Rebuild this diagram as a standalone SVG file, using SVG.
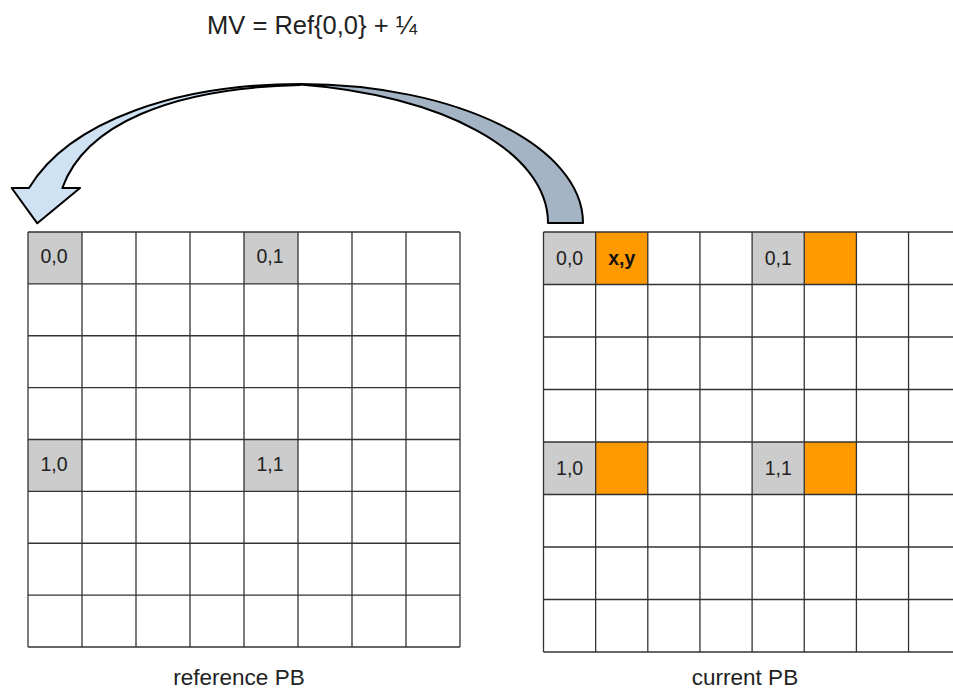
<svg xmlns="http://www.w3.org/2000/svg" width="953" height="690" viewBox="0 0 953 690">
  <style>
    text { font-family: "Liberation Sans", Arial, sans-serif; fill: #222; }
    .cellTxt { font-size: 19.5px; text-anchor: middle; }
    .bold { font-weight: bold; fill: #111; }
    .caption { font-size: 22.5px; text-anchor: middle; }
    .title { font-size: 25.5px; text-anchor: middle; }
    .grid line { stroke: #333; stroke-width: 1.3; }
    .gray { fill: #cccccc; }
    .orange { fill: #ff9900; }
    .band { stroke: #000; stroke-width: 2; stroke-linejoin: round; }
  </style>

  <rect width="953" height="690" fill="#ffffff"/>

  <!-- formula -->
  <g id="title">
    <text class="title" x="312" y="34">MV = Ref{0,0} + ¼</text>
  </g>

  <!-- curved arrow from the current block back to the reference block -->
  <g id="connectors">
    <path class="band" fill="#a4b4c4" d="M 300,84 C 456,84 583,146 583,223 L 548,223 C 548,150 440,95 300,84.5 Z"/>
    <path class="band" fill="#cfe2f3" d="M 300,84 C 180,84 70,120 29,188 L 11.7,188 L 37.3,223.3 L 80,188 L 62.3,188 C 85,125 170,88 300,85 Z"/>
  </g>

  <!-- reference PB: 8x8 grid, x 28..460, y 232..647 -->
  <g id="reference-pb">
    <rect class="gray" x="28" y="232" width="54" height="51.9"/>
    <rect class="gray" x="244" y="232" width="54" height="51.9"/>
    <rect class="gray" x="28" y="439.5" width="54" height="51.9"/>
    <rect class="gray" x="244" y="439.5" width="54" height="51.9"/>
    <g class="grid">
      <line x1="28" y1="232" x2="28" y2="647"/>
      <line x1="82" y1="232" x2="82" y2="647"/>
      <line x1="136" y1="232" x2="136" y2="647"/>
      <line x1="190" y1="232" x2="190" y2="647"/>
      <line x1="244" y1="232" x2="244" y2="647"/>
      <line x1="298" y1="232" x2="298" y2="647"/>
      <line x1="352" y1="232" x2="352" y2="647"/>
      <line x1="406" y1="232" x2="406" y2="647"/>
      <line x1="460" y1="232" x2="460" y2="647"/>
      <line x1="28" y1="232" x2="460" y2="232"/>
      <line x1="28" y1="283.9" x2="460" y2="283.9"/>
      <line x1="28" y1="335.75" x2="460" y2="335.75"/>
      <line x1="28" y1="387.6" x2="460" y2="387.6"/>
      <line x1="28" y1="439.5" x2="460" y2="439.5"/>
      <line x1="28" y1="491.4" x2="460" y2="491.4"/>
      <line x1="28" y1="543.25" x2="460" y2="543.25"/>
      <line x1="28" y1="595.1" x2="460" y2="595.1"/>
      <line x1="28" y1="647" x2="460" y2="647"/>
    </g>
    <text class="cellTxt" x="54" y="263">0,0</text>
    <text class="cellTxt" x="270" y="263">0,1</text>
    <text class="cellTxt" x="54" y="470.5">1,0</text>
    <text class="cellTxt" x="270" y="470.5">1,1</text>
    <text class="caption" x="239" y="684.5">reference PB</text>
  </g>

  <!-- current PB: grid x 543.5.., y 232..652 (runs past the right edge) -->
  <g id="current-pb">
    <rect class="gray" x="543.5" y="232" width="52.15" height="52.5"/>
    <rect class="orange" x="595.65" y="232" width="52.15" height="52.5"/>
    <rect class="gray" x="752.1" y="232" width="52.15" height="52.5"/>
    <rect class="orange" x="804.25" y="232" width="52.15" height="52.5"/>
    <rect class="gray" x="543.5" y="442" width="52.15" height="52.5"/>
    <rect class="orange" x="595.65" y="442" width="52.15" height="52.5"/>
    <rect class="gray" x="752.1" y="442" width="52.15" height="52.5"/>
    <rect class="orange" x="804.25" y="442" width="52.15" height="52.5"/>
    <g class="grid">
      <line x1="543.5" y1="232" x2="543.5" y2="652"/>
      <line x1="595.65" y1="232" x2="595.65" y2="652"/>
      <line x1="647.8" y1="232" x2="647.8" y2="652"/>
      <line x1="699.95" y1="232" x2="699.95" y2="652"/>
      <line x1="752.1" y1="232" x2="752.1" y2="652"/>
      <line x1="804.25" y1="232" x2="804.25" y2="652"/>
      <line x1="856.4" y1="232" x2="856.4" y2="652"/>
      <line x1="908.55" y1="232" x2="908.55" y2="652"/>
      <line x1="543.5" y1="232" x2="960" y2="232"/>
      <line x1="543.5" y1="284.5" x2="960" y2="284.5"/>
      <line x1="543.5" y1="337" x2="960" y2="337"/>
      <line x1="543.5" y1="389.5" x2="960" y2="389.5"/>
      <line x1="543.5" y1="442" x2="960" y2="442"/>
      <line x1="543.5" y1="494.5" x2="960" y2="494.5"/>
      <line x1="543.5" y1="547" x2="960" y2="547"/>
      <line x1="543.5" y1="599.5" x2="960" y2="599.5"/>
      <line x1="543.5" y1="652" x2="960" y2="652"/>
    </g>
    <text class="cellTxt" x="569.6" y="264.5">0,0</text>
    <text class="cellTxt bold" x="621.7" y="264.5">x,y</text>
    <text class="cellTxt" x="778.2" y="264.5">0,1</text>
    <text class="cellTxt" x="569.6" y="474.5">1,0</text>
    <text class="cellTxt" x="778.2" y="474.5">1,1</text>
    <text class="caption" x="745" y="684.5">current PB</text>
  </g>
</svg>
